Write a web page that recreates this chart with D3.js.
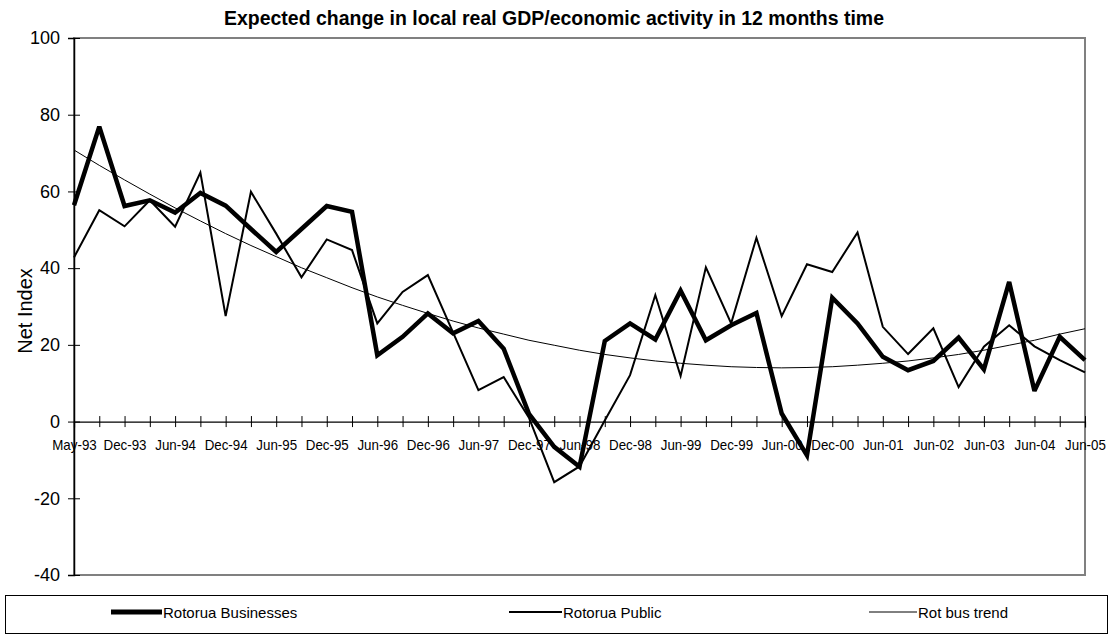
<!DOCTYPE html>
<html>
<head>
<meta charset="utf-8">
<script src="https://cdn.jsdelivr.net/npm/d3@7/dist/d3.min.js"></script>
<style>
  html, body { margin: 0; padding: 0; background: #fff; }
  svg { display: block; font-family: "Liberation Sans", Arial, sans-serif; }
</style>
</head>
<body>
<svg id="chart" width="1112" height="639"></svg>
<script>
// ---- Data ----
const categories = [
  "May-93","Sep-93","Dec-93","Mar-94","Jun-94","Sep-94","Dec-94","Mar-95","Jun-95","Sep-95",
  "Dec-95","Mar-96","Jun-96","Sep-96","Dec-96","Mar-97","Jun-97","Sep-97","Dec-97","Mar-98",
  "Jun-98","Sep-98","Dec-98","Mar-99","Jun-99","Sep-99","Dec-99","Mar-00","Jun-00","Sep-00",
  "Dec-00","Mar-01","Jun-01","Dec-01","Jun-02","Dec-02","Jun-03","Dec-03","Jun-04","Dec-04",
  "Jun-05"
];
const shownLabels = ["May-93","Dec-93","Jun-94","Dec-94","Jun-95","Dec-95","Jun-96","Dec-96",
  "Jun-97","Dec-97","Jun-98","Dec-98","Jun-99","Dec-99","Jun-00","Dec-00","Jun-01","Jun-02",
  "Jun-03","Jun-04","Jun-05"];
const businesses = [
  56.4, 76.9, 56.2, 57.7, 54.5, 59.6, 56.3, 50.2, 44.2, 50.2,
  56.2, 54.7, 17.3, 22.1, 28.2, 23.0, 26.2, 19.0, 2.0, -6.6,
  -11.8, 21.0, 25.6, 21.4, 34.1, 21.2, 25.1, 28.3, 2.1, -8.8,
  32.3, 25.6, 16.9, 13.4, 15.8, 21.9, 13.6, 36.4, 8.0, 22.1,
  16.0
];
const publicIdx = [
  42.8, 55.1, 50.9, 57.7, 50.8, 64.9, 27.5, 59.9, 49.0, 37.6,
  47.5, 44.7, 25.6, 33.8, 38.2, 23.2, 8.2, 11.6, 1.0, -15.8,
  -11.7, 0.3, 12.1, 33.0, 11.9, 40.2, 25.6, 47.9, 27.5, 41.0,
  39.0, 49.3, 24.7, 17.6, 24.3, 9.0, 19.5, 25.1, 19.6, 16.0,
  12.8
];
const busTrend = [
  70.8, 66.8, 63.0, 59.3, 55.7, 52.3, 49.0, 45.9, 43.0, 40.1,
  37.5, 34.9, 32.5, 30.3, 28.2, 26.2, 24.4, 22.8, 21.2, 19.9,
  18.6, 17.5, 16.6, 15.8, 15.2, 14.7, 14.3, 14.1, 14.0, 14.1,
  14.3, 14.7, 15.2, 15.8, 16.6, 17.5, 18.6, 19.9, 21.2, 22.8,
  24.2
];
const yTicks = [100, 80, 60, 40, 20, 0, -20, -40];
const seriesNames = ["Rotorua Businesses", "Rotorua Public", "Rot bus trend"];

// ---- Layout ----
const svg = d3.select("#chart");
const L = 74, R = 1085, T = 38, B = 575;

const x = d3.scalePoint().domain(categories).range([L, R]).padding(0);
const y = d3.scaleLinear().domain([-40, 100]).range([B, T]);

// Title
svg.append("text")
  .attr("x", 554).attr("y", 25)
  .attr("text-anchor", "middle")
  .attr("font-weight", "bold")
  .attr("font-size", 19.5)
  .attr("textLength", 660).attr("lengthAdjust", "spacingAndGlyphs")
  .text("Expected change in local real GDP/economic activity in 12 months time");

// Plot frame
svg.append("rect")
  .attr("x", L).attr("y", T).attr("width", R - L).attr("height", B - T)
  .attr("fill", "none").attr("stroke", "#808080").attr("stroke-width", 2);

// Y axis
const yAxis = svg.append("g")
  .attr("transform", `translate(${L},0)`)
  .call(d3.axisLeft(y).tickValues(yTicks).tickSize(6).tickFormat(d => String(d)));
yAxis.select(".domain").attr("stroke", "#000").attr("stroke-width", 1.5);
yAxis.selectAll(".tick line").attr("x1", -6).attr("x2", 6).attr("stroke", "#000");
yAxis.selectAll(".tick text")
  .attr("x", -14).attr("font-size", 18).attr("fill", "#000")
  .attr("font-family", "Liberation Sans, Arial, sans-serif");

// Y axis title
svg.append("text")
  .attr("transform", "translate(32,311) rotate(-90)")
  .attr("text-anchor", "middle")
  .attr("font-size", 20)
  .text("Net Index");

// X axis at zero
const xAxis = svg.append("g")
  .attr("transform", `translate(0,${y(0)})`)
  .call(d3.axisBottom(x).tickSize(6).tickFormat(d => shownLabels.includes(d) ? d : ""));
xAxis.select(".domain").attr("stroke", "#000").attr("stroke-width", 1.2);
xAxis.selectAll(".tick line").attr("y1", -5.5).attr("y2", 5.5).attr("stroke", "#000");
xAxis.selectAll(".tick text")
  .attr("y", 18)
  .attr("font-size", 14.5)
  .attr("fill", "#000")
  .attr("font-family", "Liberation Sans, Arial, sans-serif")
  .attr("transform", "scale(0.92,1)");

// Lines
const line = d3.line().x((d, i) => x(categories[i])).y(d => y(d));
svg.append("path").datum(busTrend)
  .attr("d", line).attr("fill", "none").attr("stroke", "#000").attr("stroke-width", 1);
svg.append("path").datum(publicIdx)
  .attr("d", line).attr("fill", "none").attr("stroke", "#000").attr("stroke-width", 2)
  .attr("stroke-linejoin", "miter");
svg.append("path").datum(businesses)
  .attr("d", line).attr("fill", "none").attr("stroke", "#000").attr("stroke-width", 4.5)
  .attr("stroke-linejoin", "miter").attr("stroke-miterlimit", 3);

// Legend
svg.append("rect")
  .attr("x", 5.5).attr("y", 595.5).attr("width", 1102).attr("height", 38)
  .attr("fill", "#fff").attr("stroke", "#000").attr("stroke-width", 1);
const legendItems = [
  { name: seriesNames[0], x1: 111, x2: 162, w: 5, tx: 163 },
  { name: seriesNames[1], x1: 509, x2: 562, w: 2, tx: 563 },
  { name: seriesNames[2], x1: 869, x2: 917, w: 1, tx: 918 }
];
const lg = svg.append("g");
legendItems.forEach(it => {
  lg.append("line").attr("x1", it.x1).attr("x2", it.x2).attr("y1", 612).attr("y2", 612)
    .attr("stroke", "#000").attr("stroke-width", it.w);
  lg.append("text").attr("x", it.tx).attr("y", 618)
    .attr("font-size", 15).attr("fill", "#000").text(it.name);
});
</script>
</body>
</html>
